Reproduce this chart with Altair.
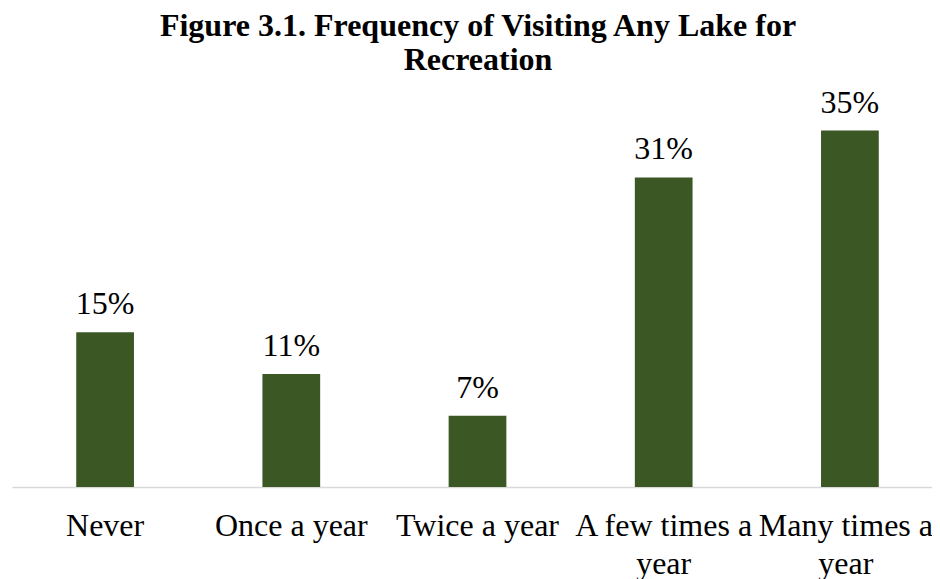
import altair as alt
import pandas as pd

categories = ["Never", "Once a year", "Twice a year", "A few times a year", "Many times a year"]
values = [15.2, 11.1, 7.0, 30.4, 35.0]
labels = ["15%", "11%", "7%", "31%", "35%"]

df = pd.DataFrame({"cat": categories, "val": values, "lab": labels})

FONT = "Liberation Serif"

x = alt.X(
    "cat:N",
    sort=categories,
    title=None,
    scale=alt.Scale(paddingInner=0.69, paddingOuter=0.345, range=[0, 931]),
    axis=alt.Axis(
        labelAngle=0,
        labelFont=FONT,
        labelFontSize=32,
        labelColor="#000000",
        labelLimit=400,
        labelPadding=23,
        labelLineHeight=38,
        labelBaseline="top",
        labelOffset={"condition": {"test": "datum.value == 'Many times a year'", "value": -4}, "value": 0},
        ticks=False,
        domainColor="#d9d9d9",
        domainWidth=1.5,
        labelExpr="indexof(datum.label, 'times a year') >= 0 ? [replace(datum.label, ' year', ''), 'year'] : datum.label",
    ),
)
y = alt.Y("val:Q", scale=alt.Scale(domain=[0, 38], nice=False), axis=None)

bars = alt.Chart(df).mark_bar(color="#3A5724").encode(x=x, y=y)
text = alt.Chart(df).mark_text(
    font=FONT, fontSize=32, baseline="alphabetic", dy=-18, color="#000000"
).encode(x=x, y=y, text="lab:N")

chart = (
    (bars + text)
    .properties(
        width=920,
        height=387,
        title=alt.Title(
            ["Figure 3.1. Frequency of Visiting Any Lake for", "Recreation"],
            font=FONT,
            fontSize=32,
            fontWeight="bold",
            color="#000000",
            lineHeight=34,
            anchor="middle",
            dx=6,
            offset=10,
        ),
        autosize=alt.AutoSizeParams(type="none"),
        padding={"left": 4, "top": 92, "right": 0, "bottom": 92},
    )
    .configure_view(stroke=None)
)

chart.save("out.html", embed_options={"renderer": "svg", "actions": False})
